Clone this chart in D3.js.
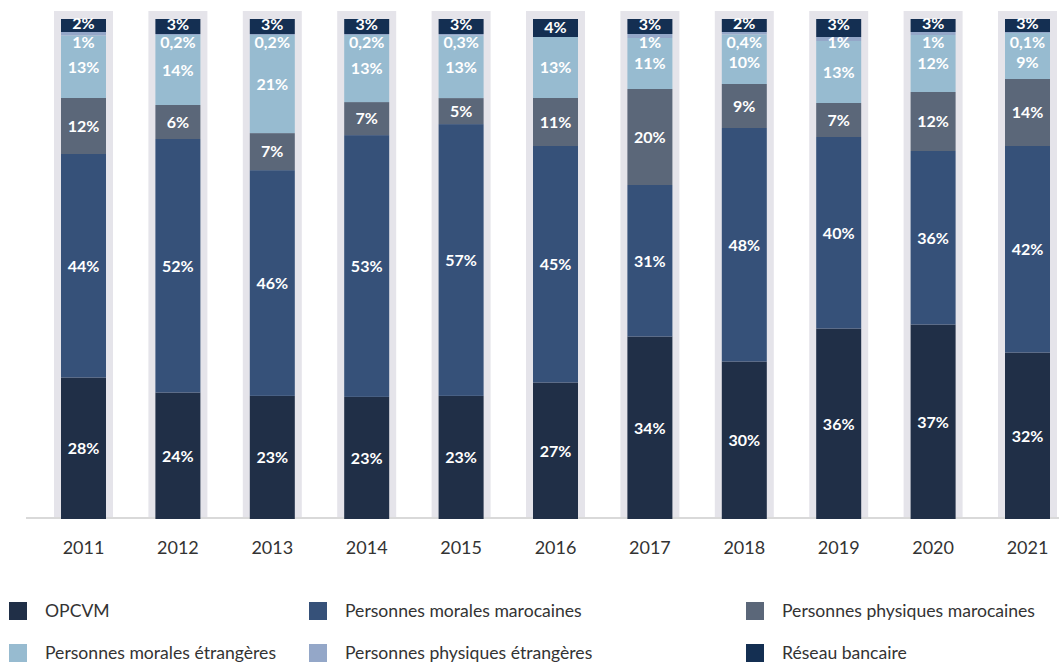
<!DOCTYPE html>
<html>
<head>
<meta charset="utf-8">
<script src="https://cdn.jsdelivr.net/npm/d3@7"></script>
<style>
  html, body { margin: 0; padding: 0; background: #fff; }
  svg { display: block; font-family: Lato, "Noto Sans", sans-serif; }
</style>
</head>
<body>
<svg id="chart" width="1059" height="664"></svg>
<script>
// ---- Data (shares in %) ----
const years = ["2011","2012","2013","2014","2015","2016","2017","2018","2019","2020","2021"];

const seriesNames = [
  "OPCVM",
  "Personnes morales marocaines",
  "Personnes physiques marocaines",
  "Personnes morales étrangères",
  "Personnes physiques étrangères",
  "Réseau bancaire"
];

const opcvm    = [28.3, 25.3, 24.6, 24.4, 24.6, 27.3, 36.5, 31.5, 38.1, 38.9, 33.3];
const pmMaroc  = [44.7, 50.7, 45.1, 52.3, 54.3, 47.3, 30.3, 46.7, 38.3, 34.7, 41.3];
const ppMaroc  = [11.2,  6.8,  7.4,  6.6,  5.2,  9.6, 19.2,  8.8,  6.8, 11.8, 13.4];
const pmEtr    = [12.5, 14.0, 19.6, 13.4, 12.5, 12.2, 10.2,  9.9, 12.4, 11.4,  9.2];
const ppEtr    = [ 0.7,  0.2,  0.2,  0.2,  0.3,  0.0,  0.8,  0.5,  0.8,  0.6,  0.2];
const reseau   = [ 2.6,  3.0,  3.0,  3.0,  3.0,  3.6,  3.0,  2.6,  3.6,  2.6,  2.6];

// Labels as printed on the chart
const opcvmLbl   = ["28%","24%","23%","23%","23%","27%","34%","30%","36%","37%","32%"];
const pmMarocLbl = ["44%","52%","46%","53%","57%","45%","31%","48%","40%","36%","42%"];
const ppMarocLbl = ["12%","6%","7%","7%","5%","11%","20%","9%","7%","12%","14%"];
const pmEtrLbl   = ["13%","14%","21%","13%","13%","13%","11%","10%","13%","12%","9%"];
const ppEtrLbl   = ["1%","0,2%","0,2%","0,2%","0,3%","","1%","0,4%","1%","1%","0,1%"];
const reseauLbl  = ["2%","3%","3%","3%","3%","4%","3%","2%","3%","3%","3%"];

const colors = ["#202f47", "#365179", "#5b6779", "#97bbd0", "#94a7c8", "#142f52"];

// ---- Build table ----
const valueArrays = [opcvm, pmMaroc, ppMaroc, pmEtr, ppEtr, reseau];
const labelArrays = [opcvmLbl, pmMarocLbl, ppMarocLbl, pmEtrLbl, ppEtrLbl, reseauLbl];
const table = years.map((y, i) => {
  const row = { year: y };
  seriesNames.forEach((s, k) => row[s] = valueArrays[k][i]);
  return row;
});

const stack = d3.stack().keys(seriesNames).offset(d3.stackOffsetExpand);
const layers = stack(table);

// ---- Scales ----
const svg = d3.select("#chart");
const x = d3.scaleBand().domain(years).range([54, 1057]).paddingInner(0.375).paddingOuter(0);
const y = d3.scaleLinear().domain([0, 1]).range([519, 19]);
const inset = 7;

// background columns
svg.append("g").selectAll("rect").data(years).join("rect")
  .attr("x", d => x(d))
  .attr("y", 11)
  .attr("width", x.bandwidth())
  .attr("height", 517 - 11)
  .attr("fill", "#e5e4ea");

// axis line
svg.append("line")
  .attr("x1", 26).attr("x2", 1059)
  .attr("y1", 518).attr("y2", 518)
  .attr("stroke", "#d9d9d9").attr("stroke-width", 2);

// bars
const gBars = svg.append("g");
layers.forEach((layer, k) => {
  gBars.append("g").attr("fill", colors[k])
    .selectAll("rect").data(layer).join("rect")
    .attr("x", d => x(d.data.year) + inset)
    .attr("width", x.bandwidth() - 2 * inset)
    .attr("y", d => y(d[1]))
    .attr("height", d => y(d[0]) - y(d[1]));
});

// labels
const gLbl = svg.append("g")
  .attr("fill", "#ffffff")
  .attr("font-size", 16)
  .attr("font-weight", 700)
  .attr("text-anchor", "middle");
layers.forEach((layer, k) => {
  const name = seriesNames[k];
  gLbl.append("g").selectAll("text").data(layer).join("text")
    .attr("x", d => x(d.data.year) + x.bandwidth() / 2)
    .attr("y", (d, i) => {
      const c = (y(d[0]) + y(d[1])) / 2;
      if (name === "Personnes physiques étrangères") return y(1) + 23;
      if (name === "Réseau bancaire") return ppEtrLbl[i] ? Math.min(c - 2, y(1) + 5) : c - 1;
      if (name === "Personnes morales étrangères") return Math.max(c, y(1) + 43);
      return c;
    })
    .attr("dy", "0.36em")
    .text((d, i) => labelArrays[k][i]);
});

// x axis labels
const xAxis = d3.axisBottom(x).tickSize(0).tickPadding(0);
const gx = svg.append("g").attr("transform", "translate(0,541)").call(xAxis);
gx.select(".domain").remove();
gx.selectAll("text")
  .attr("font-family", "Lato, 'Noto Sans', sans-serif")
  .attr("font-size", 18)
  .attr("fill", "#333333");

// legend
const legendCols = [9, 309, 746];
const legendRows = [611, 653];
const gLeg = svg.append("g");
seriesNames.forEach((s, k) => {
  const col = k % 3, row = Math.floor(k / 3);
  const g = gLeg.append("g").attr("transform", `translate(${legendCols[col]},${legendRows[row]})`);
  g.append("rect").attr("x", 0).attr("y", -9).attr("width", 18).attr("height", 18).attr("fill", colors[k]);
  g.append("text").attr("x", 36).attr("dy", "0.36em")
    .attr("font-size", 17.6).attr("fill", "#333333").text(s);
});
</script>
</body>
</html>
